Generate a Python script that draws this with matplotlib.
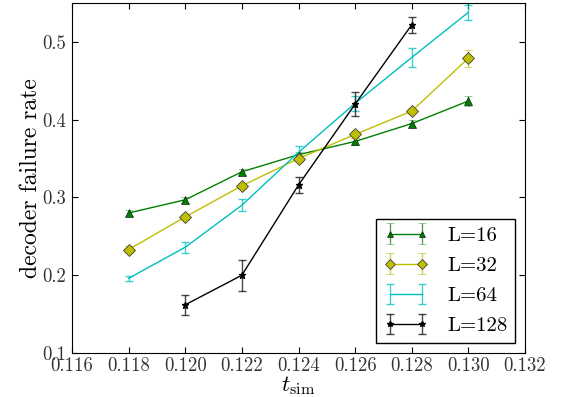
import numpy as np
import matplotlib
matplotlib.use('Agg')
import matplotlib.pyplot as plt

plt.rcParams['font.family'] = 'serif'
plt.rcParams['font.serif'] = ['cmr10', 'DejaVu Serif']
plt.rcParams['mathtext.fontset'] = 'cm'
plt.rcParams['axes.formatter.use_mathtext'] = True

# --- data ---
t16 = [0.118, 0.120, 0.122, 0.124, 0.126, 0.128, 0.130]
p16 = [0.280, 0.297, 0.333, 0.355, 0.372, 0.395, 0.424]
e16 = [0.004, 0.004, 0.004, 0.004, 0.004, 0.004, 0.007]

t32 = [0.118, 0.120, 0.122, 0.124, 0.126, 0.128, 0.130]
p32 = [0.233, 0.275, 0.315, 0.350, 0.381, 0.411, 0.479]
e32 = [0.004, 0.004, 0.004, 0.005, 0.005, 0.004, 0.011]

t64 = [0.118, 0.120, 0.122, 0.124, 0.126, 0.128, 0.130]
p64 = [0.196, 0.236, 0.290, 0.358, 0.421, 0.480, 0.538]
e64 = [0.003, 0.007, 0.008, 0.008, 0.010, 0.012, 0.010]

t128 = [0.120, 0.122, 0.124, 0.126, 0.128]
p128 = [0.162, 0.200, 0.316, 0.420, 0.522]
e128 = [0.013, 0.020, 0.010, 0.015, 0.010]

xticks = [0.116, 0.118, 0.120, 0.122, 0.124, 0.126, 0.128, 0.130, 0.132]
yticks = [0.1, 0.2, 0.3, 0.4, 0.5]

fig = plt.figure(figsize=(5.81, 3.97), dpi=100)
ax = fig.add_axes([72 / 581, 44 / 397, 453 / 581, 350 / 397])

kw = dict(lw=1.0, elinewidth=1.0, capsize=3)
ax.errorbar(t16, p16, yerr=e16, color='g', ecolor=(0, 0.5, 0, 0.7), marker='^', ms=6,
            mec='k', mew=0.4, label='L=16', **kw)
ax.errorbar(t32, p32, yerr=e32, color='y', ecolor=(0.75, 0.75, 0, 0.7), marker='D', ms=6,
            mec='#404040', mew=0.6, label='L=32', **kw)
ax.errorbar(t64, p64, yerr=e64, color='c', ecolor=(0, 0.75, 0.75, 0.75), label='L=64', **kw)
ax.errorbar(t128, p128, yerr=e128, color='k', ecolor=(0, 0, 0, 0.72), marker='*', ms=5,
            label='L=128', **kw)

ax.set_xlim(0.116, 0.132)
ax.set_ylim(0.1, 0.55)
ax.set_xticks(xticks)
ax.set_xticklabels(['%.3f' % v for v in xticks])
ax.set_yticks(yticks)
ax.set_yticklabels(['%.1f' % v for v in yticks])
ax.tick_params(direction='in', top=True, right=True, labelsize=13.5, length=4, pad=4,
               labelcolor='#333333')
ax.tick_params(axis='x', pad=3)

ax.set_xlabel(r'$t_{\rm sim}$', fontsize=16.5, labelpad=-1)
ax.set_ylabel('decoder failure rate', fontsize=17, labelpad=0)

leg = ax.legend(loc='lower right', numpoints=2, fontsize=15, fancybox=False,
                edgecolor='k', framealpha=1, labelspacing=0.55, handlelength=2.14,
                handletextpad=0.9, borderpad=0.35, borderaxespad=0.5, markerscale=0.8)
leg.get_frame().set_linewidth(1.0)

fig.savefig('out.png', dpi=100)
